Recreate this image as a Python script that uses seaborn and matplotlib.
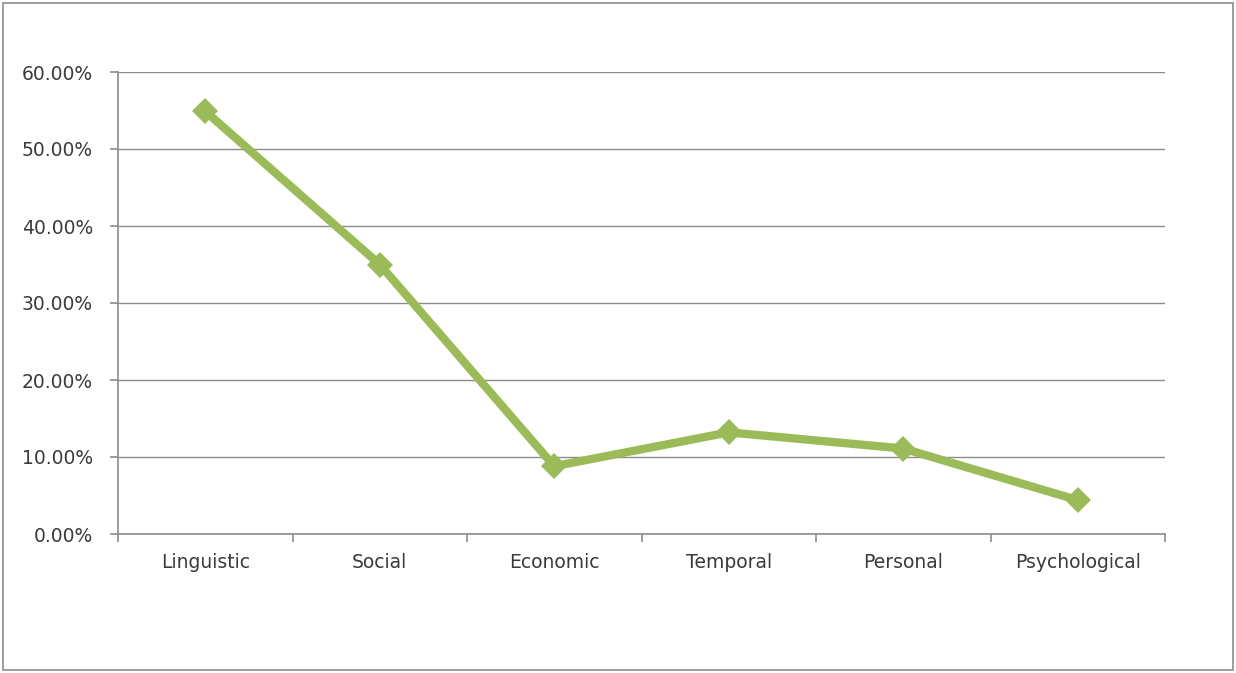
import matplotlib
matplotlib.use("Agg")
import matplotlib.pyplot as plt
from matplotlib.patches import Rectangle
from matplotlib.ticker import FixedLocator, FuncFormatter
import seaborn as sns
import pandas as pd

categories = ["Linguistic", "Social", "Economic", "Temporal", "Personal", "Psychological"]
shares = [0.549, 0.350, 0.088, 0.132, 0.111, 0.044]
y_ticks = [0.0, 0.1, 0.2, 0.3, 0.4, 0.5, 0.6]

sns.set_theme(style="white")
plt.rcParams["font.family"] = ["DejaVu Sans"]

W, H = 1236, 673
fig = plt.figure(figsize=(W / 100, H / 100), dpi=100)
ax = fig.add_axes([118 / W, (H - 534) / H, (1165 - 118) / W, (534 - 72) / H])

df = pd.DataFrame({"category": categories, "share": shares})
sns.lineplot(data=df, x="category", y="share", ax=ax, color="#9BBB59",
             linewidth=6, marker="D", markersize=13, markeredgewidth=0,
             sort=False)

grid_color = "#8c8c8c"
text_color = "#3a3a3a"
ax.set_xlim(-0.5, len(categories) - 0.5)
ax.set_ylim(0, 0.6)
ax.set_yticks(y_ticks)
ax.yaxis.set_major_formatter(FuncFormatter(lambda v, _: f"{v * 100:.2f}%"))
ax.yaxis.grid(True, color=grid_color, linewidth=1)
ax.set_axisbelow(True)

for s in ["top", "right"]:
    ax.spines[s].set_visible(False)
for s in ["left", "bottom"]:
    ax.spines[s].set_color(grid_color)
    ax.spines[s].set_linewidth(1.2)

ax.set_xticks(range(len(categories)))
ax.set_xticklabels(categories)
ax.xaxis.set_minor_locator(FixedLocator([i - 0.5 for i in range(len(categories) + 1)]))
ax.tick_params(axis="x", which="major", length=0, pad=14, labelsize=13.5, labelcolor=text_color)
ax.tick_params(axis="x", which="minor", length=6, width=1.2, color=grid_color, direction="out", bottom=True)
ax.tick_params(axis="y", which="major", length=6, width=1.2, color=grid_color, direction="out", left=True,
               labelsize=13.5, labelcolor=text_color, pad=12)
ax.set_xlabel("")
ax.set_ylabel("")

fig.patches.append(Rectangle((3 / W, 3 / H), (W - 6) / W, (H - 6) / H, transform=fig.transFigure,
                             fill=False, edgecolor="#8c8c8c", linewidth=1.2))

fig.savefig("out.png", dpi=100)
